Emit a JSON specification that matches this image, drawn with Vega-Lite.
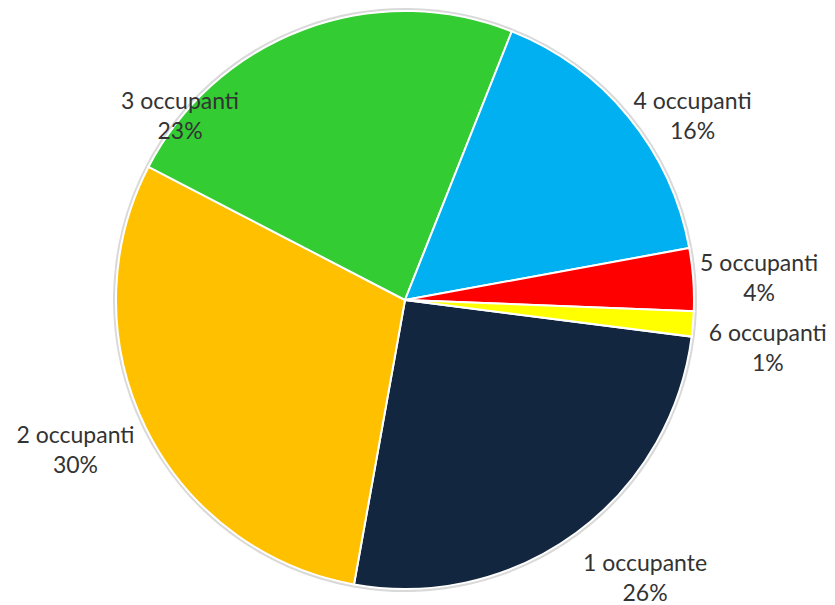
{
  "$schema": "https://vega.github.io/schema/vega-lite/v6.json",
  "width": 810,
  "height": 600,
  "autosize": {"type": "none"},
  "padding": {"left": 0, "top": 0, "right": 25, "bottom": 5},
  "background": "white",
  "view": {"stroke": null},
  "data": {
    "values": [
      {"category": "1 occupante", "pct": "26%", "value": 25.8, "order": 1},
      {"category": "2 occupanti", "pct": "30%", "value": 29.8, "order": 2},
      {"category": "3 occupanti", "pct": "23%", "value": 23.4, "order": 3},
      {"category": "4 occupanti", "pct": "16%", "value": 16.1, "order": 4},
      {"category": "5 occupanti", "pct": "4%", "value": 3.5, "order": 5},
      {"category": "6 occupanti", "pct": "1%", "value": 1.4, "order": 6}
    ]
  },
  "transform": [
    {"calculate": "datum.category + '\\n' + datum.pct", "as": "label"}
  ],
  "encoding": {
    "theta": {"field": "value", "type": "quantitative", "stack": true, "scale": {"range": [1.698, 7.981]}},
    "order": {"field": "order", "type": "quantitative"}
  },
  "layer": [
    {
      "mark": {"type": "arc", "radius": 292, "color": "#d9d9d9"}
    },
    {
      "mark": {"type": "arc", "radius": 289, "stroke": "white", "strokeWidth": 2},
      "encoding": {
        "color": {
          "field": "category",
          "type": "nominal",
          "legend": null,
          "scale": {
            "domain": ["1 occupante", "2 occupanti", "3 occupanti", "4 occupanti", "5 occupanti", "6 occupanti"],
            "range": ["#12263f", "#ffc000", "#33cc33", "#00b0f0", "#ff0000", "#ffff00"]
          }
        }
      }
    },
    {
      "mark": {
        "type": "text",
        "radius": 355,
        "fontSize": 23,
        "font": "Lato",
        "color": "#333333",
        "lineBreak": "\n",
        "lineHeight": 30,
        "dx": {"expr": "datum.category === '3 occupanti' ? -101 : datum.category === '1 occupante' ? 30 : datum.category === '4 occupanti' ? 13 : datum.category === '6 occupanti' ? 9 : datum.category === '2 occupanti' ? -11 : 0"},
        "dy": {"expr": "datum.category === '3 occupanti' ? 135 : datum.category === '1 occupante' ? -22 : datum.category === '4 occupanti' ? 27 : datum.category === '6 occupanti' ? 5 : datum.category === '2 occupanti' ? -21 : -11"}
      },
      "encoding": {
        "text": {"field": "label", "type": "nominal"}
      }
    }
  ]
}
